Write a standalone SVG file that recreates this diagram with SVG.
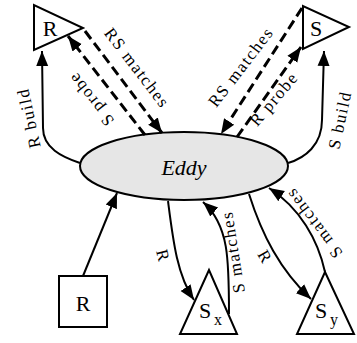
<svg xmlns="http://www.w3.org/2000/svg" width="357" height="343" viewBox="0 0 357 343">
<style>
.shape{fill:#fff;stroke:#000;stroke-width:2}
.edge{fill:none;stroke:#000;stroke-width:2}
.dash{fill:none;stroke:#000;stroke-width:3;stroke-dasharray:10 5}
text{font-family:'Liberation Serif','Times New Roman',serif;fill:#000}
.node{font-size:22px}
.sub{font-size:16px}
.lbl{font-size:17px;letter-spacing:1.5px;text-anchor:middle;dominant-baseline:central}
</style>
<defs>
<marker id="ah" markerUnits="userSpaceOnUse" markerWidth="16" markerHeight="14" viewBox="0 0 16 14" refX="15" refY="7" orient="auto">
<path d="M0,1 L15,7 L0,13 Z" fill="#000"/>
</marker>
</defs>
<rect width="357" height="343" fill="#fff"/>
<g id="eddy">
<ellipse cx="184" cy="166" rx="104" ry="34" fill="#e6e6e6" stroke="#000" stroke-width="2"/>
<text x="184" y="175" class="node" font-style="italic" font-size="26" text-anchor="middle">Eddy</text>
</g>
<g id="R-stem">
<polygon class="shape" points="34,5 34,50 83,28"/>
<text x="50" y="36" class="node" text-anchor="middle">R</text>
</g>
<g id="S-stem">
<polygon class="shape" points="303,6 303,49 349,27"/>
<text x="316" y="36" class="node" text-anchor="middle">S</text>
</g>
<g id="R-source">
<rect class="shape" x="59" y="276" width="48" height="51"/>
<text x="83" y="311" class="node" text-anchor="middle">R</text>
</g>
<g id="Sx">
<polygon class="shape" points="209,270 180,334 237,334"/>
<text x="199" y="318" class="node">S</text>
<text x="214" y="325" class="sub">x</text>
</g>
<g id="Sy">
<polygon class="shape" points="325,272 297,334 354,334"/>
<text x="315" y="318" class="node">S</text>
<text x="330" y="325" class="sub">y</text>
</g>
<g id="connectors">
<path class="edge" d="M80,163 C62,157 43,148 43,128 L42,51" marker-end="url(#ah)"/>
<path class="dash" d="M145,135 L68,36" marker-end="url(#ah)"/>
<path class="dash" d="M85,31 L162,133" marker-end="url(#ah)"/>
<path class="dash" d="M302,8 L221,134" marker-end="url(#ah)"/>
<path class="dash" d="M237,137 L301,47" marker-end="url(#ah)"/>
<path class="edge" d="M288,163 C305,158 322,145 322,120 L324,51" marker-end="url(#ah)"/>
<path class="edge" d="M83,276 L117,193" marker-end="url(#ah)"/>
<path class="edge" d="M168,201 C173,240 177,275 194,300" marker-end="url(#ah)"/>
<path class="edge" d="M229,314 C229,260 229,225 203,202" marker-end="url(#ah)"/>
<path class="edge" d="M249,194 C262,235 280,270 311,299" marker-end="url(#ah)"/>
<path class="edge" d="M325,272 C318,240 300,208 269,188" marker-end="url(#ah)"/>
<text class="lbl" transform="translate(29,118) rotate(-102)">R build</text>
<text class="lbl" transform="translate(91,99) rotate(-128)">S probe</text>
<text class="lbl" transform="translate(137,68) rotate(52.7)">RS matches</text>
<text class="lbl" transform="translate(241,67) rotate(-52.6)">RS matches</text>
<text class="lbl" transform="translate(274,99) rotate(-49.5)">R probe</text>
<text class="lbl" transform="translate(340,120) rotate(-78)">S build</text>
<text class="lbl" transform="translate(233,252) rotate(-99)">S matches</text>
<text class="lbl" transform="translate(314,223) rotate(-127)">S matches</text>
<text class="lbl" transform="translate(163,256) rotate(76)">R</text>
<text class="lbl" transform="translate(265,257) rotate(60)">R</text>
</g>
</svg>
